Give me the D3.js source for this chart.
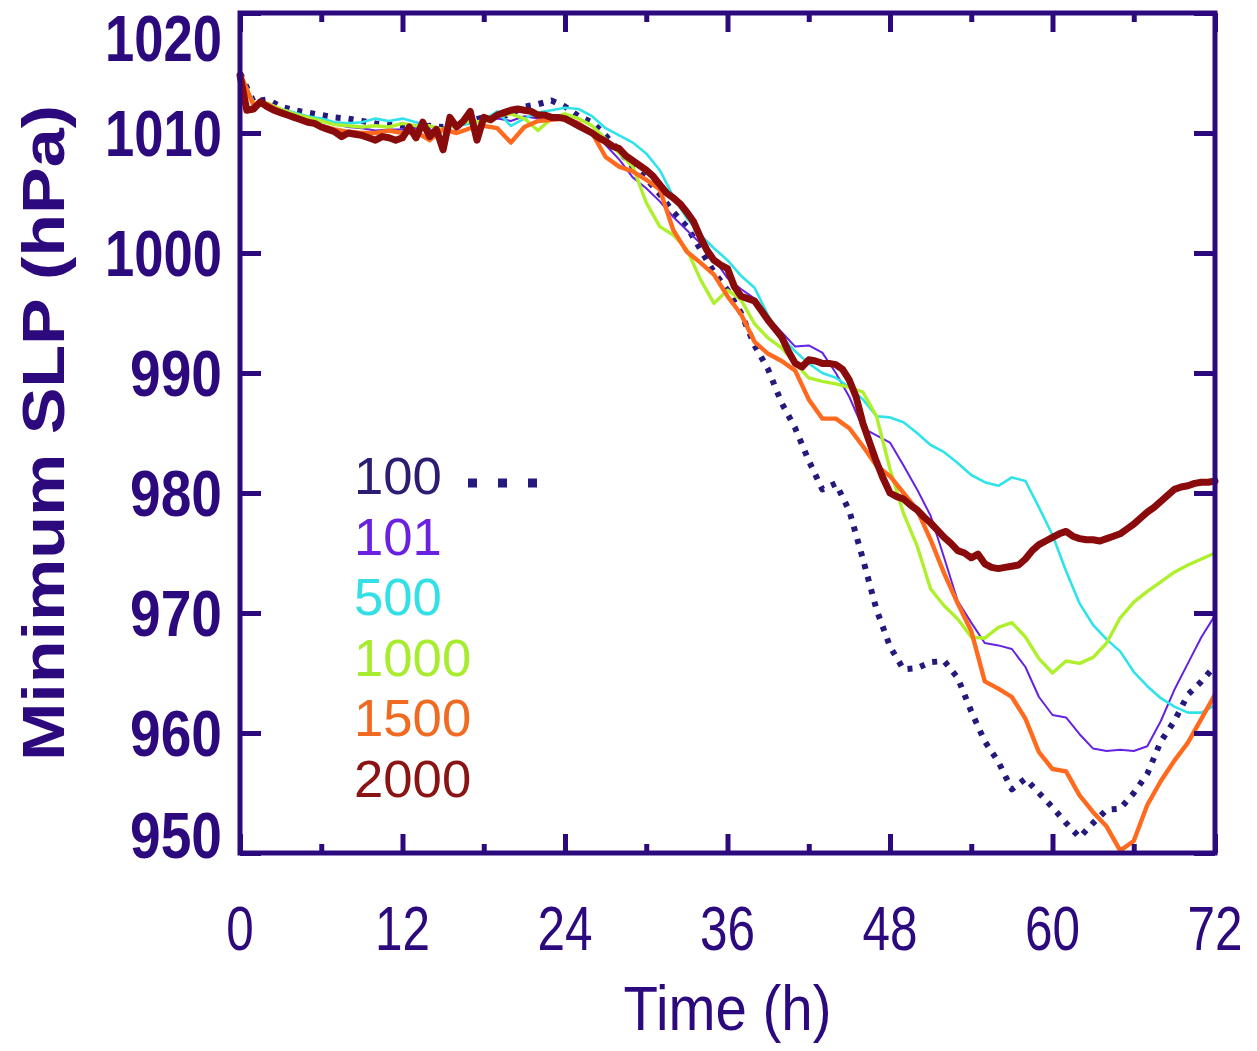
<!DOCTYPE html>
<html>
<head>
<meta charset="utf-8">
<script src="https://cdn.jsdelivr.net/npm/d3@7"></script>
<style>
  html, body { margin: 0; padding: 0; background: #ffffff; }
  svg { display: block; }
</style>
</head>
<body>
<div id="chart"></div>
<script>
// time grids (hours)
const hours = d3.range(0, 73);
const halfHours = d3.range(0, 72.5, 0.5);

// minimum SLP (hPa), hourly
const slp100 = [
  1015.0, 1012.6, 1012.8, 1012.2, 1011.9, 1011.7, 1011.5, 1011.3, 1011.2, 1011.0,
  1010.8, 1010.7, 1010.6, 1010.5, 1010.6, 1010.5, 1010.9, 1011.0, 1011.3, 1011.2,
  1011.6, 1012.2, 1012.4, 1012.7, 1012.2, 1011.4, 1010.9, 1009.8, 1008.5, 1007.2,
  1006.2, 1004.9, 1003.4, 1002.2, 1000.3, 998.4, 996.9, 995.0, 992.3, 990.3,
  987.5, 985.4, 982.7, 980.3, 980.8, 978.5, 974.5, 970.3, 967.2, 965.3,
  965.4, 965.9, 966.0, 964.6, 961.8, 959.3, 957.6, 955.3, 956.2, 955.0,
  953.8, 952.5, 951.3, 952.5, 953.6, 953.7, 955.0, 956.6, 959.3, 961.0,
  963.2, 964.3, 965.6
];
const slp101 = [
  1015.0, 1012.4, 1012.4, 1011.9, 1011.6, 1011.3, 1011.0, 1010.7, 1010.5, 1010.4,
  1010.2, 1010.3, 1010.3, 1010.4, 1010.2, 1010.4, 1010.6, 1010.8, 1011.0, 1011.2,
  1011.0, 1011.4, 1011.2, 1011.4, 1011.3, 1010.9, 1010.1, 1009.0, 1007.8, 1006.3,
  1005.4, 1004.3, 1003.0, 1001.9, 1000.8, 999.5, 997.9, 997.0, 996.2, 994.6,
  993.4, 992.2, 992.3, 991.7, 990.0, 988.0, 985.4, 984.8, 984.2, 982.3,
  980.3, 978.1, 974.6, 971.0, 969.2, 967.5, 967.3, 967.0, 965.5, 963.0,
  961.5, 961.3, 959.9, 958.7, 958.5, 958.6, 958.5, 958.9, 961.0, 963.6,
  965.8, 968.0, 969.8
];
const slp500 = [
  1015.0, 1012.5, 1012.5, 1012.0, 1011.7, 1011.4, 1011.2, 1010.9, 1010.8, 1010.9,
  1011.2, 1011.0, 1011.2, 1010.9, 1010.6, 1010.3, 1010.6, 1010.8, 1011.1, 1011.8,
  1010.6, 1011.2, 1011.7, 1011.9, 1012.1, 1012.0, 1011.4, 1010.4, 1009.8, 1009.2,
  1008.3, 1006.9, 1004.7, 1002.9, 1001.5, 1000.4, 999.4, 998.1, 997.1, 994.8,
  993.0, 991.8, 990.8, 990.0, 989.6, 988.8, 987.8, 986.4, 986.3, 985.9,
  985.0, 984.0, 983.4, 982.5, 981.5, 980.9, 980.6, 981.3, 981.0, 978.8,
  976.5, 973.5, 970.8, 969.0, 967.8, 966.8, 965.1, 963.9, 962.9, 962.2,
  961.7, 961.7, 962.3
];
const slp1000 = [
  1015.0, 1012.5, 1012.5, 1012.0, 1011.6, 1011.3, 1011.0, 1010.7, 1010.6, 1010.5,
  1010.6, 1010.5, 1010.8, 1010.6, 1010.6, 1010.3, 1010.7, 1011.0, 1010.9, 1011.4,
  1011.6, 1011.2, 1010.2, 1011.2, 1011.6, 1011.2, 1010.6, 1009.5, 1008.3, 1007.2,
  1004.2, 1002.2, 1001.5, 1000.3, 997.8, 995.8, 996.9, 996.1, 994.1, 992.9,
  992.1, 990.8, 989.6, 989.3, 989.1, 988.8, 988.4, 986.4, 982.0, 978.3,
  975.6, 972.0, 970.6, 969.5, 968.0, 967.9, 968.8, 969.2, 968.0, 966.2,
  965.0, 966.0, 965.8, 966.3, 967.5, 969.6, 970.9, 971.8, 972.6, 973.4,
  974.0, 974.5, 975.0
];
const slp1500 = [
  1015.0, 1012.3, 1012.4, 1011.8, 1011.4, 1011.0, 1010.6, 1010.3, 1010.1, 1010.0,
  1010.0, 1010.2, 1010.0, 1010.1, 1009.4, 1010.3, 1010.0, 1010.4, 1010.6, 1010.4,
  1009.2, 1010.5, 1011.0, 1011.1, 1011.2, 1010.8, 1010.0, 1008.0, 1007.2, 1006.8,
  1006.1, 1005.3, 1001.9, 1000.1, 999.2, 998.2, 996.4, 994.9, 992.6, 991.6,
  991.0, 990.2, 987.8, 986.2, 986.2, 985.4, 983.9, 982.3, 981.4, 980.0,
  978.6, 976.1, 973.3, 970.8, 968.5, 964.3, 963.7, 963.0, 961.2, 958.4,
  957.0, 956.8, 954.8, 953.4, 952.2, 950.2, 951.0, 954.0, 956.0, 957.7,
  959.2, 961.2, 963.2
];
// half-hourly
const slp2000 = [
  1014.8, 1011.9, 1012.0, 1012.6, 1012.2, 1011.9, 1011.7, 1011.5, 1011.3, 1011.1,
  1010.9, 1010.8, 1010.5, 1010.3, 1010.1, 1009.7, 1010.0, 1009.9, 1009.8, 1009.6,
  1009.4, 1009.7, 1009.6, 1009.4, 1009.6, 1010.5, 1009.6, 1010.9, 1009.7, 1010.3,
  1008.6, 1011.3, 1010.5, 1011.0, 1011.8, 1009.4, 1011.3, 1011.1, 1011.5, 1011.7,
  1011.9, 1012.0, 1011.9, 1011.8, 1011.5, 1011.5, 1011.3, 1011.3, 1011.2, 1010.9,
  1010.6, 1010.3, 1010.0, 1009.6, 1009.3, 1008.9, 1008.7, 1008.1, 1007.7, 1007.3,
  1006.9, 1006.4, 1005.7, 1005.0, 1004.6, 1004.1, 1003.4, 1002.6, 1001.3, 1000.2,
  999.4, 999.0, 998.7, 997.2, 996.4, 996.2, 996.0, 995.2, 994.4, 993.7,
  993.0, 991.8, 990.8, 990.5, 991.1, 991.0, 990.8, 990.8, 990.7, 990.3,
  989.4, 988.0, 985.8, 984.2, 982.6, 981.2, 980.0, 979.7, 979.5, 979.0,
  978.6, 978.0, 977.5, 976.9, 976.3, 975.8, 975.2, 975.0, 974.6, 974.9,
  974.1, 973.8, 973.7, 973.8, 973.9, 974.0, 974.5, 975.2, 975.7, 976.0,
  976.3, 976.6, 976.8, 976.4, 976.2, 976.1, 976.1, 976.0, 976.2, 976.4,
  976.6, 977.0, 977.4, 977.9, 978.4, 978.8, 979.3, 979.8, 980.3, 980.5,
  980.6, 980.8, 980.9, 980.9, 981.0
];

const runNames = ["100", "101", "500", "1000", "1500", "2000"];
const xMajorTicks = [0, 12, 24, 36, 48, 60, 72];
const xMinorTicks = [6, 18, 30, 42, 54, 66];
const yTickValues = [950, 960, 970, 980, 990, 1000, 1010, 1020];

const AXIS = "#2c0a7e";
const runs = [
  { name: runNames[0], t: hours, v: slp100, color: "#24197c", width: 6, dash: "5,8", text: "#2e1b72" },
  { name: runNames[1], t: hours, v: slp101, color: "#6622e2", width: 2, text: "#6a22e0" },
  { name: runNames[2], t: hours, v: slp500, color: "#2fe3ea", width: 2.6, text: "#34e0e6" },
  { name: runNames[3], t: hours, v: slp1000, color: "#aef02c", width: 3.4, text: "#a8ec30" },
  { name: runNames[4], t: hours, v: slp1500, color: "#ff6a1e", width: 4.4, text: "#f06a22" },
  { name: runNames[5], t: halfHours, v: slp2000, color: "#8a0b0b", width: 7, text: "#8a1414" }
];

const W = 1257, H = 1051;
const svg = d3.select("#chart").append("svg").attr("width", W).attr("height", H);

const x = d3.scaleLinear().domain([0, 72]).range([240, 1215]);
const y = d3.scaleLinear().domain([950, 1020]).range([853, 13]);

const sans = "'Liberation Sans', Arial, sans-serif";

// lines
const line = d3.line().x(d => x(d[0])).y(d => y(d[1]));
runs.forEach(r => {
  svg.append("path")
    .datum(r.t.map((t, i) => [t, r.v[i]]))
    .attr("fill", "none")
    .attr("stroke", r.color)
    .attr("stroke-width", r.width)
    .attr("stroke-linejoin", "round")
    .attr("stroke-linecap", r.dash ? "butt" : "round")
    .attr("stroke-dasharray", r.dash || null)
    .attr("d", line);
});

// ticks (inward)
function styleTicks(g) {
  g.select(".domain").remove();
  g.selectAll(".tick line").attr("stroke", AXIS).attr("stroke-width", 5);
  g.selectAll(".tick text").remove();
}
svg.append("g").attr("transform", `translate(${x(0)},0)`)
  .call(d3.axisLeft(y).tickValues(yTickValues).tickSize(-21)).call(styleTicks);
svg.append("g").attr("transform", `translate(${x(72)},0)`)
  .call(d3.axisRight(y).tickValues(yTickValues).tickSize(-21)).call(styleTicks);
svg.append("g").attr("transform", `translate(0,${y(950)})`)
  .call(d3.axisBottom(x).tickValues(xMajorTicks).tickSize(-19)).call(styleTicks);
svg.append("g").attr("transform", `translate(0,${y(950)})`)
  .call(d3.axisBottom(x).tickValues(xMinorTicks).tickSize(-9)).call(styleTicks);
svg.append("g").attr("transform", `translate(0,${y(1020)})`)
  .call(d3.axisTop(x).tickValues(xMajorTicks).tickSize(-19)).call(styleTicks);
svg.append("g").attr("transform", `translate(0,${y(1020)})`)
  .call(d3.axisTop(x).tickValues(xMinorTicks).tickSize(-9)).call(styleTicks);

// frame
svg.append("rect")
  .attr("x", x(0)).attr("y", y(1020))
  .attr("width", x(72) - x(0)).attr("height", y(950) - y(1020))
  .attr("fill", "none").attr("stroke", AXIS).attr("stroke-width", 5);

// y tick labels
svg.append("g").selectAll("text")
  .data(yTickValues)
  .join("text")
  .attr("x", 222)
  .attr("y", d => y(d) + (d === 1020 ? 25 : d === 950 ? -18 : 0) + 23)
  .attr("text-anchor", "end")
  .attr("fill", AXIS)
  .attr("font-family", sans)
  .attr("font-weight", "bold")
  .attr("font-size", 64)
  .attr("textLength", d => String(d).length === 4 ? 117 : 92)
  .attr("lengthAdjust", "spacingAndGlyphs")
  .text(d => d);

// x tick labels
svg.append("g").selectAll("text")
  .data(xMajorTicks)
  .join("text")
  .attr("x", d => x(d))
  .attr("y", 950)
  .attr("text-anchor", "middle")
  .attr("fill", AXIS)
  .attr("font-family", sans)
  .attr("font-size", 63)
  .attr("textLength", d => String(d).length * 27.5)
  .attr("lengthAdjust", "spacingAndGlyphs")
  .text(d => d);

// axis titles
svg.append("text")
  .attr("x", (x(0) + x(72)) / 2)
  .attr("y", 1030)
  .attr("text-anchor", "middle")
  .attr("fill", AXIS)
  .attr("font-family", sans)
  .attr("font-size", 63)
  .attr("textLength", 208)
  .attr("lengthAdjust", "spacingAndGlyphs")
  .text("Time (h)");

svg.append("text")
  .attr("transform", `translate(64,${(y(950) + y(1020)) / 2}) rotate(-90)`)
  .attr("text-anchor", "middle")
  .attr("fill", AXIS)
  .attr("font-family", sans)
  .attr("font-weight", "bold")
  .attr("font-size", 60)
  .attr("textLength", 656)
  .attr("lengthAdjust", "spacingAndGlyphs")
  .text("Minimum SLP (hPa)");

// legend
svg.append("g").selectAll("text")
  .data(runs)
  .join("text")
  .attr("x", 354)
  .attr("y", (d, i) => 494 + i * 60.5)
  .attr("fill", d => d.text)
  .attr("font-family", sans)
  .attr("font-size", 52)
  .attr("textLength", d => d.name.length * 29.3)
  .attr("lengthAdjust", "spacingAndGlyphs")
  .text(d => d.name);

svg.append("line")
  .attr("x1", 468).attr("x2", 540)
  .attr("y1", 483).attr("y2", 483)
  .attr("stroke", runs[0].color)
  .attr("stroke-width", 9)
  .attr("stroke-dasharray", "9,21");
</script>
</body>
</html>
